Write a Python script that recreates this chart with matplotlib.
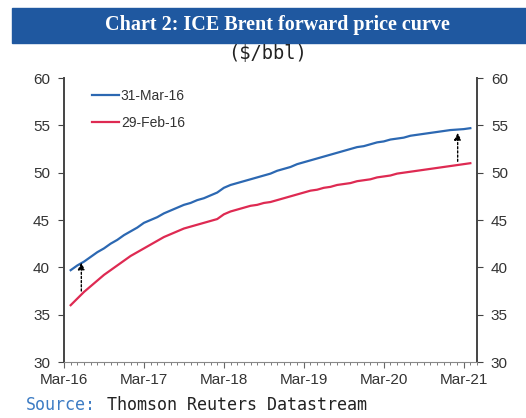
import matplotlib
matplotlib.use("Agg")
import matplotlib.pyplot as plt
from matplotlib.patches import Rectangle

# forward curve, monthly contracts (month 0 = Mar-16)
meses = list(range(1, 62))
mar16 = [39.7, 40.2, 40.6, 41.1, 41.6, 42.0, 42.5, 42.9, 43.4, 43.8,
         44.2, 44.7, 45.0, 45.3, 45.7, 46.0, 46.3, 46.6, 46.8, 47.1,
         47.3, 47.6, 47.9, 48.4, 48.7, 48.9, 49.1, 49.3, 49.5, 49.7,
         49.9, 50.2, 50.4, 50.6, 50.9, 51.1, 51.3, 51.5, 51.7, 51.9,
         52.1, 52.3, 52.5, 52.7, 52.8, 53.0, 53.2, 53.3, 53.5, 53.6,
         53.7, 53.9, 54.0, 54.1, 54.2, 54.3, 54.4, 54.5, 54.55, 54.6,
         54.7]
feb16 = [36.0, 36.7, 37.4, 38.0, 38.6, 39.2, 39.7, 40.2, 40.7, 41.2,
         41.6, 42.0, 42.4, 42.8, 43.2, 43.5, 43.8, 44.1, 44.3, 44.5,
         44.7, 44.9, 45.1, 45.6, 45.9, 46.1, 46.3, 46.5, 46.6, 46.8,
         46.9, 47.1, 47.3, 47.5, 47.7, 47.9, 48.1, 48.2, 48.4, 48.5,
         48.7, 48.8, 48.9, 49.1, 49.2, 49.3, 49.5, 49.6, 49.7, 49.9,
         50.0, 50.1, 50.2, 50.3, 50.4, 50.5, 50.6, 50.7, 50.8, 50.9,
         51.0]
etiquetas_x = ["Mar-16", "Mar-17", "Mar-18", "Mar-19", "Mar-20", "Mar-21"]
posiciones_x = [0, 12, 24, 36, 48, 60]
flechas = [(2.6, 37.5, 40.5), (59.1, 51.2, 54.2)]  # x, desde, hasta

azul = "#2c68b2"
rojo = "#de2a52"
gris = "#333333"

fig = plt.figure(figsize=(5.26, 4.18), dpi=100)

# banner del titulo
fig.patches.append(Rectangle((12 / 526, 1 - 43 / 418), 1, 35 / 418,
                             transform=fig.transFigure, color="#1f58a0", zorder=0))
fig.text(277 / 526, 1 - 25 / 418, "Chart 2: ICE Brent forward price curve",
         ha="center", va="center", color="white", fontsize=14.5,
         family="Liberation Serif", weight="bold")
fig.text(267 / 526, 1 - 53 / 418, "($/bbl)", ha="center", va="center",
         fontsize=13.5, family="DejaVu Sans Mono", color="#222222")

ax = fig.add_axes([64 / 526, 1 - 362 / 418, 413 / 526, 284 / 418])
ax.plot(meses, mar16, color=azul, lw=1.6, label="31-Mar-16")
ax.plot(meses, feb16, color=rojo, lw=1.6, label="29-Feb-16")

for x, y0, y1 in flechas:
    ax.annotate("", xy=(x, y1), xytext=(x, y0),
                arrowprops=dict(arrowstyle="-|>", linestyle=(0, (1.5, 1.5)),
                                color="black", lw=1, mutation_scale=10,
                                shrinkA=0, shrinkB=0))

ax.set_xlim(0, 62)
ax.set_ylim(30, 60)
ax.set_xticks(posiciones_x)
ax.set_xticklabels(etiquetas_x)
ax.set_xticks(range(0, 63), minor=True)
ax.set_yticks(range(30, 61, 5))

ax.spines["top"].set_visible(False)
ax.spines["right"].set_visible(True)
for s in ["left", "right"]:
    ax.spines[s].set_color("#444444")
    ax.spines[s].set_linewidth(1.4)
ax.spines["bottom"].set_color("#888888")
ax.spines["bottom"].set_linewidth(0.8)

ax.tick_params(axis="y", which="both", left=True, right=True, labelleft=True,
               labelright=True, length=4, color="#444444", labelcolor=gris,
               labelsize=11, pad=6)
ax.tick_params(axis="x", which="major", length=4, color="#666666",
               labelcolor=gris, labelsize=11, pad=4)
ax.tick_params(axis="x", which="minor", length=2, color="#666666")
for t in ax.get_xticklabels() + ax.get_yticklabels():
    t.set_family("Liberation Sans")

leg = ax.legend(loc="upper left", bbox_to_anchor=(0.05, 0.985), frameon=False,
                handlelength=2.0, handletextpad=0.1, labelspacing=0.9,
                borderpad=0, prop={"family": "Liberation Sans", "size": 10})
for t in leg.get_texts():
    t.set_color(gris)

fig.text(26 / 526, 1 - 405 / 418, "Source:", ha="left", va="center",
         fontsize=12, family="DejaVu Sans Mono", color="#3d7cc4")
fig.text(26 / 526 + 8 * 10.1 / 526, 1 - 405 / 418, "Thomson Reuters Datastream",
         ha="left", va="center", fontsize=12, family="DejaVu Sans Mono",
         color="#222222")

fig.savefig("out.png", dpi=100)
